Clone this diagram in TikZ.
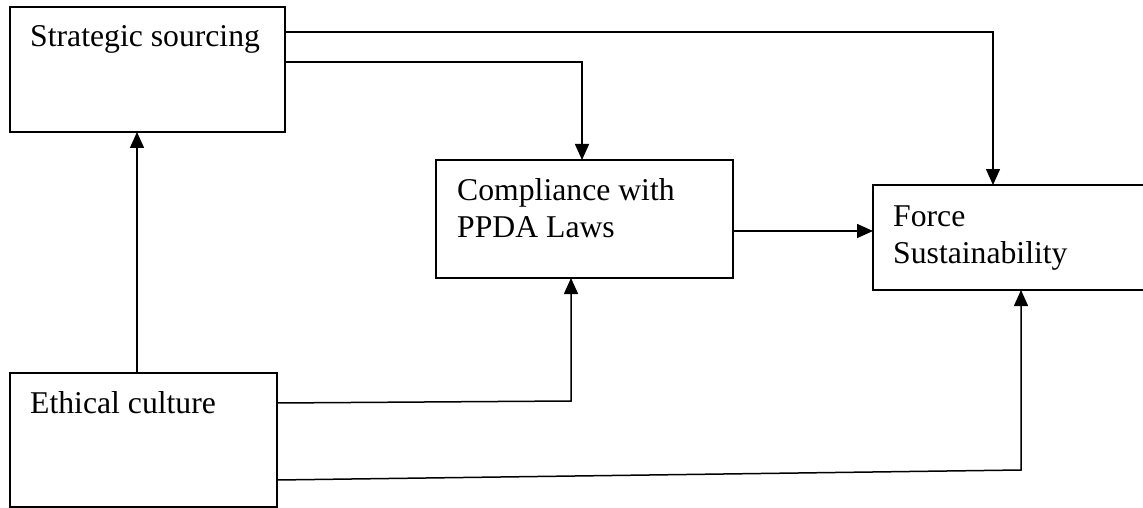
\documentclass[tikz,border=0pt]{standalone}
\usepackage{fontspec}
\setmainfont{Liberation Serif}
\usetikzlibrary{arrows.meta}
\begin{document}
\begin{tikzpicture}[x=1pt,y=1pt,
  box/.style={draw=black, line width=1.5pt, rectangle, inner sep=0pt, outer sep=0pt, anchor=north west},
  lbl/.style={anchor=base west, inner sep=0pt, font=\fontsize{31.7}{36}\selectfont},
  arr/.style={line width=1.5pt, -{Triangle[length=16pt,width=14pt]}}]
\useasboundingbox (0,0) rectangle (1143,-508);
\fill[white] (0,0) rectangle (1143,-508);
% boxes
\node[box, minimum width=275pt, minimum height=125pt] (ss) at (10,-7) {};
\node[box, minimum width=297pt, minimum height=118pt] (cp) at (436,-160) {};
\node[box, minimum width=277pt, minimum height=105pt] (fs) at (873,-185) {};
\node[box, minimum width=267pt, minimum height=134pt] (ec) at (10,-373) {};
% texts
\node[lbl] (tss) at (30,-47) {Strategic sourcing};
\node[lbl] (tcp1) at (457,-200) {Compliance with};
\node[lbl] (tcp2) at (457,-237) {PPDA Laws};
\node[lbl] (tfs1) at (893,-226) {Force};
\node[lbl] (tfs2) at (893,-263) {Sustainability};
\node[lbl] (tec) at (30,-413) {Ethical culture};
% corner coordinates
\coordinate (k1) at (571,-401);
\coordinate (k2) at (1021,-470);
% connectors
\draw[arr] (ss.east |- 0,-32) -| (fs.north -| 993,0);
\draw[arr] (ss.east |- 0,-62) -| (cp.north -| 582,0);
\draw[arr] (cp.east |- 0,-231) -- (fs.west |- 0,-231);
\draw[arr] (ec.north -| 137,0) -- (ss.south -| 137,0);
\draw[arr] (ec.east |- 0,-403) -- (k1) -- (cp.south -| k1);
\draw[arr] (ec.east |- 0,-480) -- (k2) -- (fs.south -| k2);
\end{tikzpicture}
\end{document}
